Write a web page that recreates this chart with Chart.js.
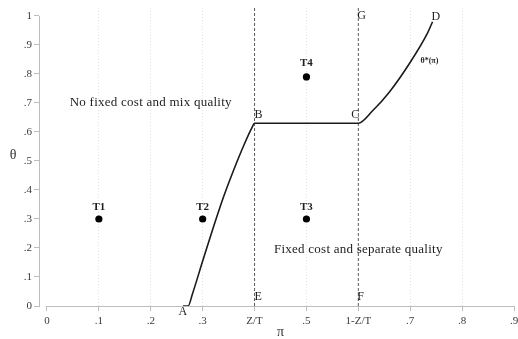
<!DOCTYPE html>
<html>
<head>
<meta charset="utf-8">
<script src="https://cdn.jsdelivr.net/npm/chart.js@4/dist/chart.umd.min.js"></script>
<style>
  html, body { margin: 0; padding: 0; background: #ffffff; }
  canvas { display: block; }
</style>
</head>
<body>
<canvas id="c" width="518" height="339"></canvas>
<script>
// Boundary theta*(pi): rising segment A-B, flat B-C, rising segment C-D
const boundaryPi    = [0.262, 0.272, 0.280, 0.300, 0.320, 0.340, 0.360, 0.380, 0.395, 0.400, 0.600, 0.628, 0.660, 0.701, 0.733, 0.743];
const boundaryTheta = [0.000, 0.000, 0.040, 0.155, 0.268, 0.375, 0.470, 0.557, 0.615, 0.630, 0.630, 0.674, 0.738, 0.843, 0.940, 0.980];

// Threshold lines at pi = Z/T and pi = 1-Z/T
const thresholdPi = [0.4, 0.6];

// Test points
const testNames = ['T1', 'T2', 'T3', 'T4'];
const testPi    = [0.1, 0.3, 0.5, 0.5];
const testTheta = [0.3, 0.3, 0.3, 0.79];

// Lettered corners of the regions
const cornerNames = ['A', 'B', 'C', 'D', 'E', 'F', 'G'];
const cornerPi    = [0.262, 0.4, 0.6, 0.743, 0.4, 0.6, 0.6];
const cornerTheta = [0, 0.63, 0.63, 0.98, 0, 0, 1];

// Region captions
const regionText  = ['No fixed cost and mix quality', 'Fixed cost and separate quality'];
const regionPi    = [0.2, 0.6];
const regionTheta = [0.7, 0.196];

// Curve caption
const curveText = 'θ*(π)';
const curvePi = 0.737;
const curveTheta = 0.845;

// Axis ticks
const xTickValues = [0, 0.1, 0.2, 0.3, 0.4, 0.5, 0.6, 0.7, 0.8, 0.9];
const xTickLabels = ['0', '.1', '.2', '.3', 'Z/T', '.5', '1-Z/T', '.7', '.8', '.9'];
const xGridValues = [0.1, 0.2, 0.3, 0.5, 0.7, 0.8];
const yTickValues = [0, 0.1, 0.2, 0.3, 0.4, 0.5, 0.6, 0.7, 0.8, 0.9, 1];
const yTickLabels = ['0', '.1', '.2', '.3', '.4', '.5', '.6', '.7', '.8', '.9', '1'];

const xMin = -0.0154, xMax = 0.9;
const yMin = 0, yMax = 1.0275;

const SERIF = '"Liberation Serif", "DejaVu Serif", serif';
const AXIS_GREY = '#bdbdbd';

const toPoints = (xs, ys) => xs.map((x, i) => ({ x: x, y: ys[i] }));

const datasets = [
  {
    data: toPoints(boundaryPi, boundaryTheta),
    showLine: true,
    borderColor: '#1b1b1b',
    borderWidth: 1.6,
    pointRadius: 0,
    cubicInterpolationMode: 'monotone',
    order: 1
  }
];
thresholdPi.forEach(p => {
  datasets.push({
    data: [{ x: p, y: yMin }, { x: p, y: yMax }],
    showLine: true,
    borderColor: '#5a5a5a',
    borderWidth: 1,
    borderDash: [3, 2],
    pointRadius: 0,
    order: 2
  });
});
datasets.push({
  data: toPoints(testPi, testTheta),
  showLine: false,
  pointRadius: 3.6,
  pointBackgroundColor: '#000000',
  pointBorderColor: '#000000',
  pointBorderWidth: 0,
  order: 0
});

// Axis lines, axis titles and all text annotations
const annotate = {
  id: 'annotate',
  afterDatasetsDraw(chart) {
    const ctx = chart.ctx;
    const xs = chart.scales.x, ys = chart.scales.y;
    const px = v => xs.getPixelForValue(v);
    const py = v => ys.getPixelForValue(v);
    ctx.save();

    // axis lines spanning the tick range only
    ctx.strokeStyle = AXIS_GREY;
    ctx.lineWidth = 1;
    ctx.beginPath();
    ctx.moveTo(Math.round(px(0)), Math.round(py(0)) + 0.5);
    ctx.lineTo(Math.round(px(0.9)) + 1, Math.round(py(0)) + 0.5);
    ctx.stroke();
    ctx.beginPath();
    ctx.moveTo(Math.round(xs.left) + 0.5, Math.round(py(1)));
    ctx.lineTo(Math.round(xs.left) + 0.5, Math.round(py(0)) + 1);
    ctx.stroke();

    ctx.fillStyle = '#1e1e1e';
    ctx.textBaseline = 'middle';

    // region captions
    ctx.font = '13px ' + SERIF;
    ctx.letterSpacing = '0.25px';
    ctx.textAlign = 'center';
    regionText.forEach((t, i) => ctx.fillText(t, px(regionPi[i]), py(regionTheta[i])));
    ctx.letterSpacing = '0px';

    // test point labels
    ctx.font = 'bold 11px ' + SERIF;
    testNames.forEach((t, i) => ctx.fillText(t, px(testPi[i]), py(testTheta[i]) - (i === 3 ? 14 : 12)));

    // corner letters
    ctx.font = '12px ' + SERIF;
    const place = {
      A: { align: 'center', dx: 0, dy: 6 },
      B: { align: 'left', dx: 0, dy: -8 },
      C: { align: 'right', dx: 1, dy: -8 },
      D: { align: 'left', dx: -1, dy: -5 },
      E: { align: 'left', dx: 0, dy: -9 },
      F: { align: 'left', dx: -1, dy: -9 },
      G: { align: 'left', dx: -1, dy: 0 }
    };
    cornerNames.forEach((t, i) => {
      const p = place[t];
      ctx.textAlign = p.align;
      ctx.fillText(t, px(cornerPi[i]) + p.dx, py(cornerTheta[i]) + p.dy);
    });

    // curve caption
    ctx.font = 'bold 8px ' + SERIF;
    ctx.textAlign = 'center';
    ctx.fillText(curveText, px(curvePi), py(curveTheta));

    // axis titles
    ctx.fillStyle = '#333333';
    ctx.font = '14px ' + SERIF;
    ctx.fillText('θ', 13, 155);
    ctx.fillText('π', (px(0) + px(0.9)) / 2, 332);

    ctx.restore();
  }
};

new Chart(document.getElementById('c'), {
  type: 'scatter',
  data: { datasets: datasets },
  plugins: [annotate],
  options: {
    responsive: false,
    animation: false,
    devicePixelRatio: 1,
    layout: { padding: { top: 8, right: 3, left: 0, bottom: 0 } },
    plugins: { legend: { display: false }, tooltip: { enabled: false } },
    scales: {
      x: {
        type: 'linear',
        min: xMin,
        max: xMax,
        afterBuildTicks: s => { s.ticks = xTickValues.map(v => ({ value: v })); },
        afterFit: s => { s.height = 33; s.paddingLeft = 0; s.paddingRight = 0; },
        ticks: {
          autoSkip: false,
          maxRotation: 0,
          padding: 4,
          color: '#3a3a3a',
          font: { family: SERIF, size: 11 },
          callback: (v, i) => xTickLabels[i]
        },
        grid: {
          drawOnChartArea: true,
          drawTicks: true,
          tickLength: 5,
          tickColor: AXIS_GREY,
          lineWidth: 1,
          color: c => (c.tick && xGridValues.some(g => Math.abs(g - c.tick.value) < 1e-9)) ? '#e2e2e2' : 'rgba(0,0,0,0)'
        },
        border: { display: false, dash: [1, 2] }
      },
      y: {
        type: 'linear',
        min: yMin,
        max: yMax,
        afterBuildTicks: s => { s.ticks = yTickValues.map(v => ({ value: v })); },
        afterFit: s => { s.width = 39; s.paddingTop = 0; s.paddingBottom = 0; },
        ticks: {
          autoSkip: false,
          padding: 2,
          color: '#3a3a3a',
          font: { family: SERIF, size: 11 },
          callback: (v, i) => yTickLabels[i]
        },
        grid: {
          drawOnChartArea: false,
          drawTicks: true,
          tickLength: 5,
          tickColor: AXIS_GREY
        },
        border: { display: false }
      }
    }
  }
});
</script>
</body>
</html>
